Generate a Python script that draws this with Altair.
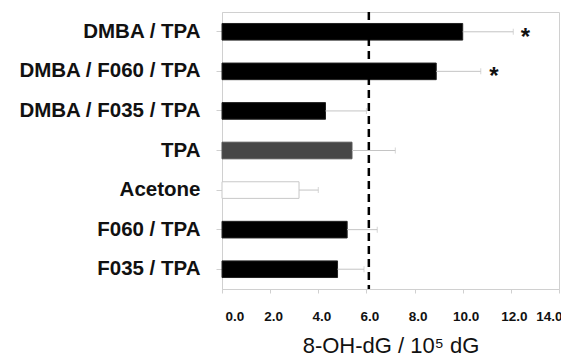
import altair as alt
import pandas as pd

categories = ["DMBA / TPA", "DMBA / F060 / TPA", "DMBA / F035 / TPA", "TPA", "Acetone", "F060 / TPA", "F035 / TPA"]
values = [10.0, 8.9, 4.3, 5.4, 3.2, 5.2, 4.8]
errors = [2.1, 1.85, 1.7, 1.8, 0.8, 1.25, 1.1]
groups = ["black", "black", "black", "gray", "white", "black", "black"]
star_categories = ["DMBA / TPA", "DMBA / F060 / TPA"]
star_x = [12.6, 11.3]
reference_x = [6.1]
x_ticks = [0, 2, 4, 6, 8, 10, 12, 14]

df = pd.DataFrame({"cat": categories, "val": values, "err": errors, "grp": groups})
df["hi"] = df["val"] + df["err"]
stars = pd.DataFrame({"cat": star_categories, "x": star_x, "t": ["*"] * len(star_x)})
ref = pd.DataFrame({"x": reference_x})

xscale = alt.Scale(domain=[0, 14], nice=False)
yenc = alt.Y("cat:N", sort=categories, title=None,
             scale=alt.Scale(paddingInner=0.58, paddingOuter=0.29))

bars = alt.Chart(df).mark_bar(strokeWidth=1).encode(
    x=alt.X("val:Q", scale=xscale,
            axis=alt.Axis(values=x_ticks, format=".1f", title="8-OH-dG / 10⁵ dG", labelOffset=3)),
    y=yenc,
    color=alt.Color("grp:N", scale=alt.Scale(domain=["black", "gray", "white"],
                                            range=["#000000", "#474747", "#ffffff"]), legend=None),
    stroke=alt.Stroke("grp:N", scale=alt.Scale(domain=["black", "gray", "white"],
                                              range=["#222222", "#555555", "#c8c8c8"]), legend=None),
)

err = alt.Chart(df).mark_rule(color="#c4c4c4", strokeWidth=1).encode(
    x=alt.X("val:Q", scale=xscale), x2="hi:Q", y=yenc)

caps = alt.Chart(df).mark_tick(color="#c4c4c4", thickness=1, size=6, orient="vertical").encode(
    x=alt.X("hi:Q", scale=xscale), y=yenc)

refline = alt.Chart(ref).mark_rule(color="#000000", strokeWidth=2.5, strokeDash=[8, 5]).encode(
    x=alt.X("x:Q", scale=xscale))

star = alt.Chart(stars).mark_text(fontSize=24, fontWeight="bold", font="Liberation Sans",
                                  baseline="middle", dy=6, color="#111111").encode(
    x=alt.X("x:Q", scale=xscale), y=yenc, text="t:N")

chart = alt.layer(bars, err, caps, refline, star).properties(
    width=337, height=277,
    autosize=alt.AutoSizeParams(type="none"),
    padding={"left": 214, "top": 4, "right": 2, "bottom": 70},
).configure_view(stroke="#d0d0d0", strokeWidth=1).configure_axis(
    domainColor="#d0d0d0", tickColor="#d0d0d0", grid=False,
    labelFont="Liberation Sans", titleFont="Liberation Sans",
).configure_axisY(
    labelFontSize=20.5, labelFontWeight="bold", labelColor="#111111",
    tickSize=6, labelPadding=16, labelLimit=300,
).configure_axisX(
    labelFontSize=13.5, labelFontWeight="bold", labelColor="#111111",
    tickSize=4, labelPadding=16,
    titleFontSize=22, titleFontWeight="normal", titleColor="#111111", titlePadding=13,
)

chart.save("out.html", embed_options={"renderer": "svg", "actions": False})
